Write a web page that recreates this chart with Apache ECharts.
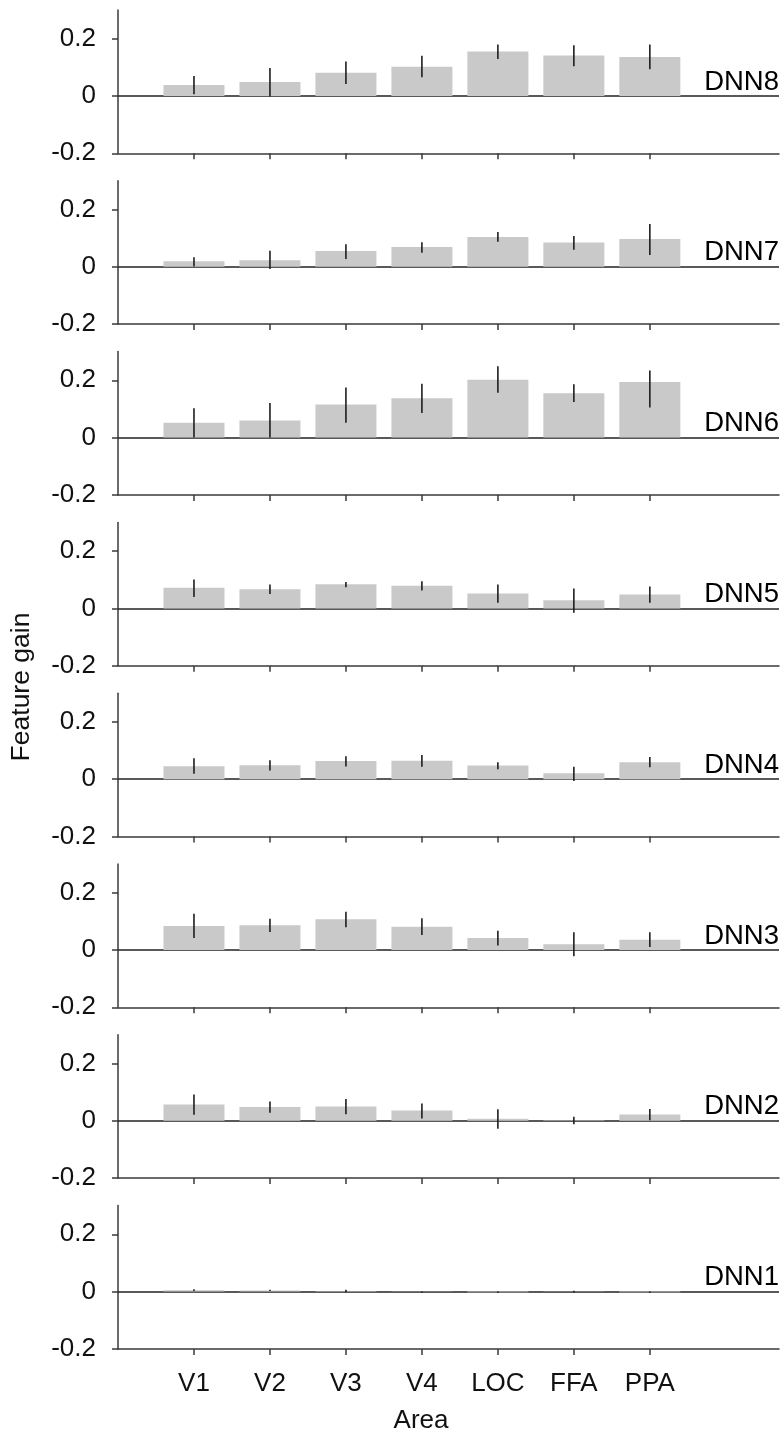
<!DOCTYPE html>
<html>
<head>
<meta charset="utf-8">
<script src="https://cdn.jsdelivr.net/npm/echarts@6/dist/echarts.min.js"></script>
<style>
  html, body { margin: 0; padding: 0; background: #fff; }
  #chart { width: 782px; height: 1436px; }
</style>
</head>
<body>
<div id="chart"></div>
<script>
// Visual areas along the x axis
const categories = ['V1', 'V2', 'V3', 'V4', 'LOC', 'FFA', 'PPA'];
// Panels from top to bottom
const models = ['DNN8', 'DNN7', 'DNN6', 'DNN5', 'DNN4', 'DNN3', 'DNN2', 'DNN1'];
const yTicks = [-0.2, 0, 0.2];

// Mean feature gain and error-bar bounds per model
const meanDNN8 = [0.038, 0.049, 0.081, 0.102, 0.155, 0.141, 0.136];
const lowDNN8  = [0.006, -0.002, 0.042, 0.065, 0.129, 0.104, 0.093];
const highDNN8 = [0.070, 0.098, 0.120, 0.140, 0.180, 0.177, 0.180];

const meanDNN7 = [0.019, 0.023, 0.055, 0.069, 0.104, 0.085, 0.097];
const lowDNN7  = [0.001, -0.008, 0.027, 0.049, 0.087, 0.059, 0.041];
const highDNN7 = [0.033, 0.056, 0.079, 0.086, 0.121, 0.107, 0.149];

const meanDNN6 = [0.052, 0.060, 0.115, 0.137, 0.202, 0.155, 0.194];
const lowDNN6  = [0.000, 0.000, 0.052, 0.086, 0.156, 0.124, 0.105];
const highDNN6 = [0.102, 0.121, 0.175, 0.188, 0.249, 0.186, 0.234];

const meanDNN5 = [0.072, 0.067, 0.084, 0.079, 0.052, 0.028, 0.048];
const lowDNN5  = [0.040, 0.050, 0.074, 0.062, 0.020, -0.015, 0.020];
const highDNN5 = [0.101, 0.083, 0.092, 0.095, 0.083, 0.069, 0.076];

const meanDNN4 = [0.045, 0.049, 0.063, 0.064, 0.048, 0.021, 0.059];
const lowDNN4  = [0.019, 0.030, 0.044, 0.043, 0.035, -0.006, 0.042];
const highDNN4 = [0.073, 0.066, 0.080, 0.084, 0.059, 0.043, 0.077];

const meanDNN3 = [0.084, 0.086, 0.107, 0.081, 0.042, 0.020, 0.036];
const lowDNN3  = [0.042, 0.063, 0.079, 0.052, 0.016, -0.022, 0.010];
const highDNN3 = [0.126, 0.109, 0.133, 0.111, 0.067, 0.062, 0.062];

const meanDNN2 = [0.057, 0.048, 0.050, 0.036, 0.007, 0.002, 0.022];
const lowDNN2  = [0.021, 0.028, 0.023, 0.008, -0.028, -0.012, 0.002];
const highDNN2 = [0.092, 0.067, 0.076, 0.060, 0.040, 0.014, 0.041];

const meanDNN1 = [0.005, 0.004, 0.002, -0.001, -0.002, 0.001, -0.002];
const lowDNN1  = [0.002, 0.002, -0.002, -0.004, -0.005, -0.003, -0.005];
const highDNN1 = [0.008, 0.006, 0.006, 0.000, 0.000, 0.003, 0.000];

const means = [meanDNN8, meanDNN7, meanDNN6, meanDNN5, meanDNN4, meanDNN3, meanDNN2, meanDNN1];
const lows  = [lowDNN8, lowDNN7, lowDNN6, lowDNN5, lowDNN4, lowDNN3, lowDNN2, lowDNN1];
const highs = [highDNN8, highDNN7, highDNN6, highDNN5, highDNN4, highDNN3, highDNN2, highDNN1];

const FONT = '"Liberation Sans", Arial, Helvetica, sans-serif';
const AXIS_COLOR = '#3a3a3a';
const TEXT_SIZE = 26;
const panelTop = 10, panelStep = 170.8, panelHeight = 143.3;
const plotLeft = 118, plotWidth = 661;
const xMax = 8.7; // room to the right for the panel names

const chart = echarts.init(document.getElementById('chart'), null, { renderer: 'canvas' });

const grid = [], xAxis = [], yAxis = [], series = [];
const catPos = categories.map((c, i) => i + 1);

models.forEach((name, p) => {
  const last = p === models.length - 1;
  grid.push({ left: plotLeft, width: plotWidth, top: panelTop + p * panelStep, height: panelHeight });

  xAxis.push({
    gridIndex: p, type: 'value', min: 0, max: xMax,
    axisLine: { show: true, onZero: false, lineStyle: { color: AXIS_COLOR, width: 1.5 } },
    axisTick: { show: true, customValues: catPos, length: 6, lineStyle: { color: AXIS_COLOR, width: 1.5 } },
    axisLabel: {
      show: last, customValues: catPos, margin: 22,
      formatter: v => categories[Math.round(v) - 1] || '',
      fontFamily: FONT, fontSize: TEXT_SIZE, color: '#111'
    },
    splitLine: { show: false }
  });

  yAxis.push({
    gridIndex: p, type: 'value', min: -0.2, max: 0.3,
    axisLine: { show: true, lineStyle: { color: AXIS_COLOR, width: 1.5 } },
    axisTick: { show: true, customValues: yTicks, length: 6, lineStyle: { color: AXIS_COLOR, width: 1.5 } },
    axisLabel: {
      customValues: yTicks, margin: 22,
      formatter: v => (Math.abs(v) < 1e-9 ? '0' : v.toFixed(1)),
      fontFamily: FONT, fontSize: TEXT_SIZE, color: '#111'
    },
    splitLine: { show: false }
  });

  // Bars: mean gain per area
  series.push({
    type: 'bar', xAxisIndex: p, yAxisIndex: p, z: 3,
    barWidth: 61,
    data: categories.map((c, i) => [catPos[i], means[p][i]]),
    itemStyle: { color: '#c9c9c9' },
    silent: true,
    markLine: {
      z: 1, silent: true, symbol: ['none', 'none'],
      lineStyle: { color: '#222', width: 1.5, type: 'solid' },
      label: {
        show: true, position: 'insideEndTop', distance: [0, 0],
        formatter: name, fontFamily: FONT, fontSize: 27.5, color: '#000'
      },
      data: [{ yAxis: 0 }]
    }
  });

  // Error bars drawn through the panel's scales
  series.push({
    type: 'custom', xAxisIndex: p, yAxisIndex: p, z: 4, silent: true,
    data: categories.map((c, i) => [catPos[i], lows[p][i], highs[p][i]]),
    encode: { x: 0, y: [1, 2] },
    renderItem: (params, api) => {
      const a = api.coord([api.value(0), api.value(1)]);
      const b = api.coord([api.value(0), api.value(2)]);
      return {
        type: 'line',
        shape: { x1: a[0], y1: a[1], x2: b[0], y2: b[1] },
        style: { stroke: '#1e1e1e', lineWidth: 1.6 }
      };
    }
  });
});

chart.setOption({
  animation: false,
  backgroundColor: '#fff',
  grid, xAxis, yAxis, series,
  graphic: [
    {
      type: 'text', x: 22, y: 687, rotation: Math.PI / 2,
      style: { text: 'Feature gain', fontFamily: FONT, fontSize: 26.5, fill: '#111',
               align: 'center', verticalAlign: 'middle' }
    },
    {
      type: 'text', x: 421, y: 1421,
      style: { text: 'Area', fontFamily: FONT, fontSize: TEXT_SIZE, fill: '#111',
               align: 'center', verticalAlign: 'middle' }
    }
  ]
});
</script>
</body>
</html>
